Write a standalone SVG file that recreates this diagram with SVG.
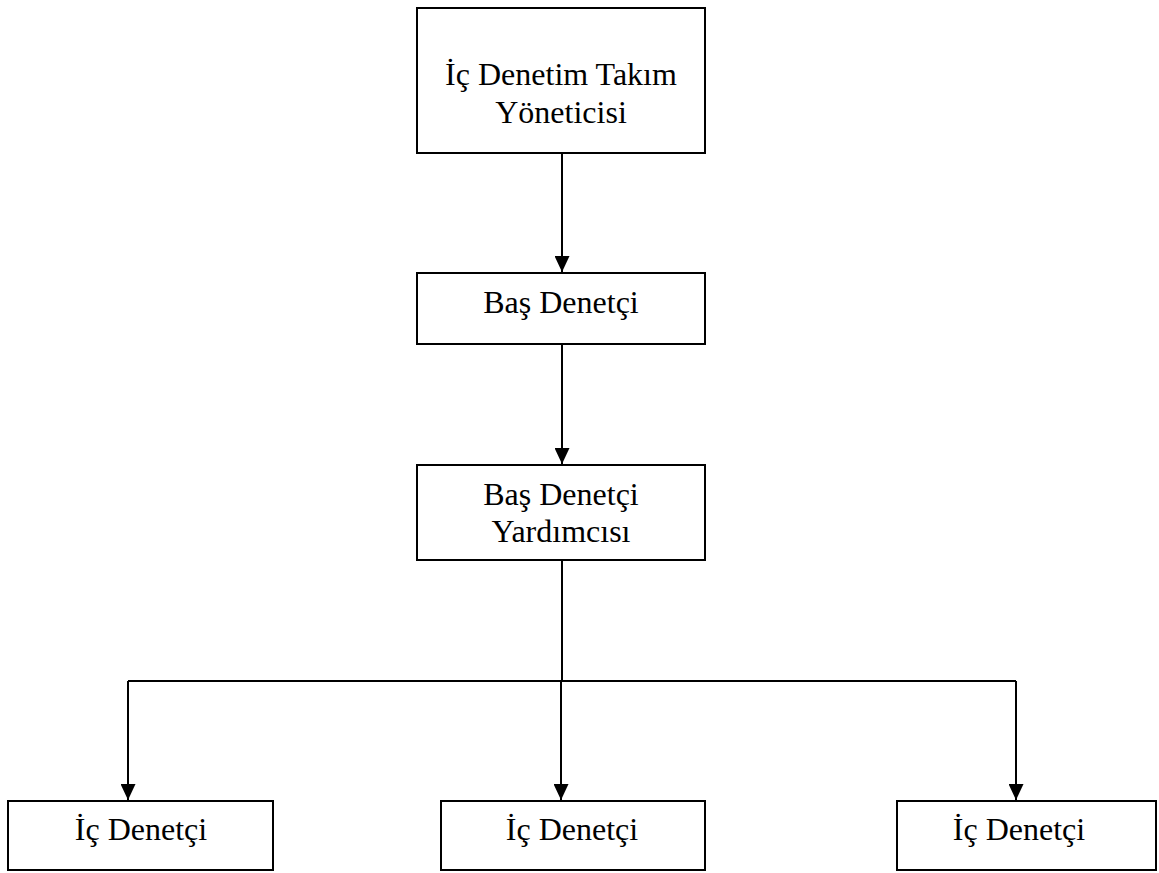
<svg xmlns="http://www.w3.org/2000/svg" width="1159" height="873" viewBox="0 0 1159 873">
  <style>
    .box { fill: #ffffff; stroke: #000000; stroke-width: 2; }
    .lbl { font-family: "Liberation Serif", "Times New Roman", serif; font-size: 32px; fill: #000000; text-anchor: middle; }
    .wire { fill: none; stroke: #000000; stroke-width: 2; }
  </style>
  <defs>
    <marker id="arrow" viewBox="0 0 16 15" refX="16" refY="7.5" markerWidth="16" markerHeight="15" markerUnits="userSpaceOnUse" orient="auto">
      <path d="M0,0 L16,7.5 L0,15 Z" fill="#000000"/>
    </marker>
  </defs>
  <rect width="1159" height="873" fill="#ffffff"/>

  <g id="connectors">
    <line class="wire" x1="562" y1="153" x2="562" y2="272" marker-end="url(#arrow)"/>
    <line class="wire" x1="562" y1="344" x2="562" y2="464" marker-end="url(#arrow)"/>
    <path class="wire" d="M562,560 V681"/>
    <path class="wire" d="M128,681 H1016"/>
    <line class="wire" x1="128" y1="681" x2="128" y2="800" marker-end="url(#arrow)"/>
    <line class="wire" x1="561" y1="681" x2="561" y2="800" marker-end="url(#arrow)"/>
    <line class="wire" x1="1016" y1="681" x2="1016" y2="800" marker-end="url(#arrow)"/>
  </g>

  <g id="team-manager">
    <rect class="box" x="417" y="8" width="288" height="145"/>
    <text class="lbl" x="561" y="85">İç Denetim Takım</text>
    <text class="lbl" x="561" y="123">Yöneticisi</text>
  </g>

  <g id="chief-auditor">
    <rect class="box" x="417" y="273" width="288" height="71"/>
    <text class="lbl" x="561" y="313">Baş Denetçi</text>
  </g>

  <g id="deputy-chief-auditor">
    <rect class="box" x="417" y="465" width="288" height="95"/>
    <text class="lbl" x="561" y="505">Baş Denetçi</text>
    <text class="lbl" x="561" y="542">Yardımcısı</text>
  </g>

  <g id="auditor-1">
    <rect class="box" x="8" y="801" width="265" height="69"/>
    <text class="lbl" x="141" y="840">İç Denetçi</text>
  </g>

  <g id="auditor-2">
    <rect class="box" x="441" y="801" width="264" height="69"/>
    <text class="lbl" x="572" y="840">İç Denetçi</text>
  </g>

  <g id="auditor-3">
    <rect class="box" x="897" y="801" width="259" height="69"/>
    <text class="lbl" x="1019" y="840">İç Denetçi</text>
  </g>
</svg>
